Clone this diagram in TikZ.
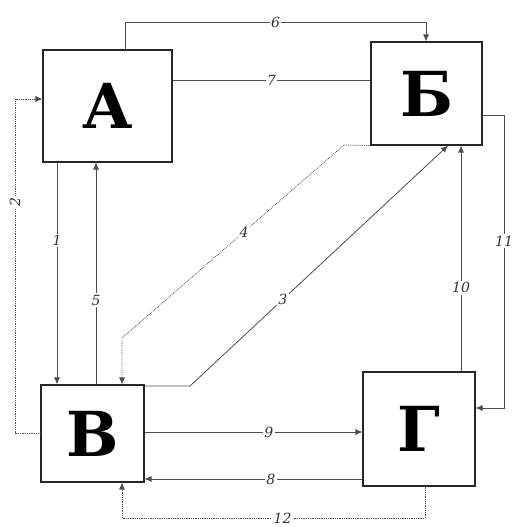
\documentclass[tikz,border=0pt]{standalone}
\usepackage{fontspec}
\setmainfont{DejaVu Serif}
\usetikzlibrary{arrows.meta}

\tikzset{
  blok/.style={draw=black!85,line width=1.1pt,fill=white,inner sep=0pt,
    font=\fontsize{62}{62}\selectfont\bfseries},
  flow/.style={draw=black!70,line width=.8pt},
  dots/.style={flow,densely dotted},
  tip/.style={-{Latex[length=7pt,width=6pt]}},
  num/.style={fill=white,inner sep=1.5pt,text=black!80,
    font=\fontsize{14}{14}\selectfont\itshape},
}

\begin{document}
\begin{tikzpicture}[x=1pt,y=-1pt]
  \useasboundingbox (0,0) rectangle (516,527);

  % blocks
  \node[blok,minimum width=129pt,minimum height=112pt] (A) at (107.5,106) {А};
  \node[blok,minimum width=111pt,minimum height=103pt] (B) at (426.5,93.5) {Б};
  \node[blok,minimum width=103pt,minimum height=97pt] (V) at (92.5,433.5) {В};
  \node[blok,minimum width=112pt,minimum height=114pt] (G) at (419,429) {Г};

  % bends
  \coordinate (c6a) at (125,22);
  \coordinate (c6b) at (426,22);
  \coordinate (c7) at (0,80);
  \coordinate (c1) at (57,0);
  \coordinate (c5) at (96,0);
  \coordinate (c2a) at (15,433);
  \coordinate (c2b) at (15,99);
  \coordinate (c4a) at (344,145);
  \coordinate (c4b) at (122,338);
  \coordinate (c3a) at (190,386);
  \coordinate (c3b) at (448,0);
  \coordinate (c10) at (461,0);
  \coordinate (c11a) at (504,115);
  \coordinate (c11b) at (504,408);
  \coordinate (c9) at (0,432);
  \coordinate (c8) at (0,479);
  \coordinate (c12a) at (425,518);
  \coordinate (c12b) at (122,518);

  % links
  \draw[flow,tip] (A.north -| c6a) -- (c6a) -- node[num]{6} (c6b) -- (B.north -| c6b);
  \draw[flow] (A.east |- c7) -- node[num]{7} (B.west |- c7);
  \draw[flow,tip] (A.south -| c1) -- node[num,pos=.35]{1} (V.north -| c1);
  \draw[flow,tip] (V.north -| c5) -- node[num,pos=.38]{5} (A.south -| c5);
  \draw[dots,tip] (V.west |- c2a) -- (c2a) -- node[num,rotate=90,pos=.69]{2} (c2b) -- (A.west |- c2b);
  \draw[dots,tip] (B.south west) -- (c4a) -- node[num,pos=.45]{4} (c4b) -- (V.north -| c4b);
  \draw[flow,tip] (V.east |- c3a) -- (c3a) -- node[num,pos=.36]{3} (B.south -| c3b);
  \draw[flow,tip] (G.north -| c10) -- node[num,pos=.37]{10} (B.south -| c10);
  \draw[flow,tip] (B.east |- c11a) -- (c11a) -- node[num,pos=.43]{11} (c11b) -- (G.east |- c11b);
  \draw[flow,tip] (V.east |- c9) -- node[num,pos=.57]{9} (G.west |- c9);
  \draw[flow,tip] (G.west |- c8) -- node[num,pos=.42]{8} (V.east |- c8);
  \draw[dots,tip] (G.south -| c12a) -- (c12a) -- node[num,pos=.47]{12} (c12b) -- (V.south -| c12b);
\end{tikzpicture}
\end{document}
